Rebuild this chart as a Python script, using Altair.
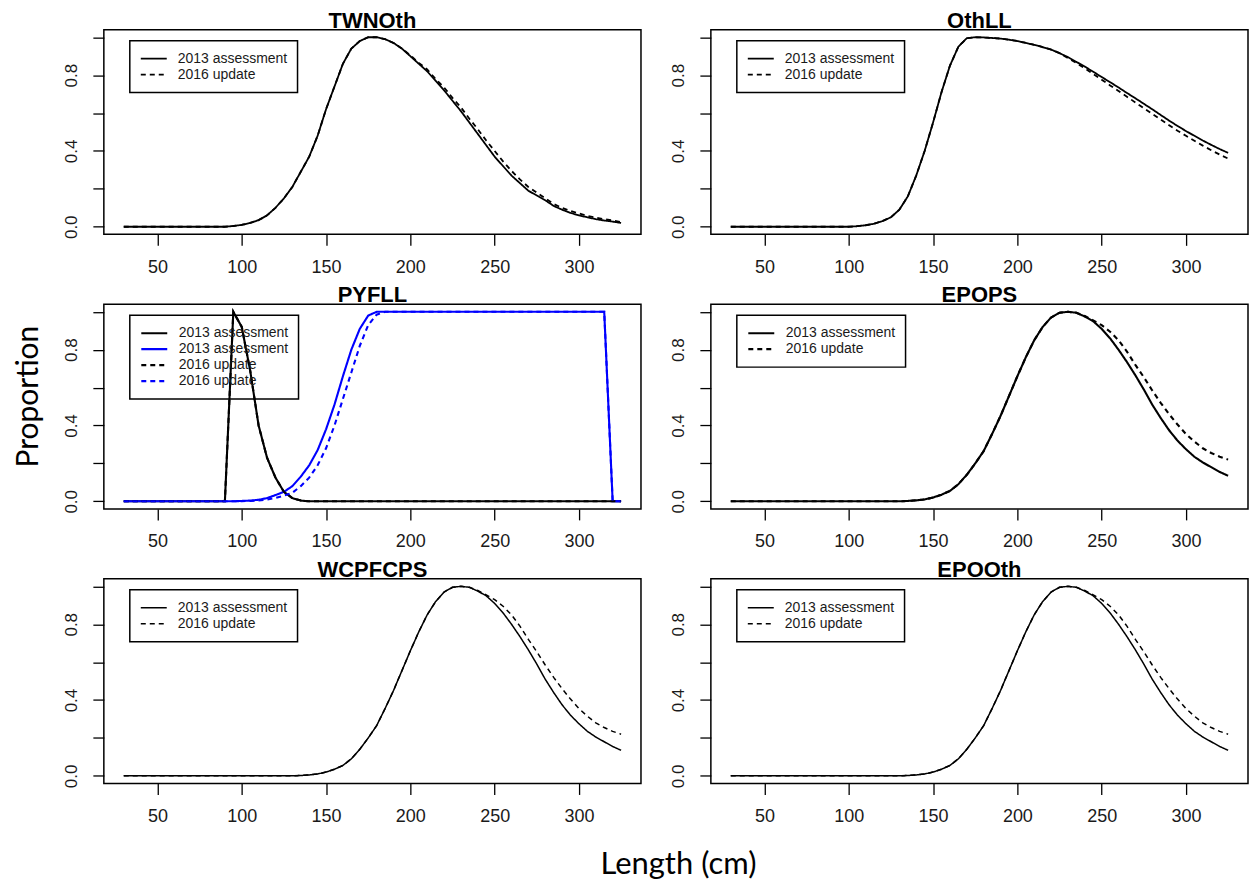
import altair as alt
import pandas as pd

# ---------------- data ----------------
LENGTHS = list(range(30, 330, 5))  # 30 ... 325 cm

X_TICKS = [50, 100, 150, 200, 250, 300]
Y_TICKS = [0, 0.2, 0.4, 0.6, 0.8, 1.0]

PANEL_NAMES = ["TWNOth", "OthLL", "PYFLL", "EPOPS", "WCPFCPS", "EPOOth"]

TWNOTH_2013 = [0, 0, 0, 0, 0, 0, 0, 0, 0, 0,
               0, 0, 0, 0.004, 0.01, 0.02, 0.035, 0.06, 0.10, 0.15,
               0.21, 0.29, 0.37, 0.48, 0.62, 0.74, 0.86, 0.94, 0.98, 1.0,
               1.0, 0.99, 0.97, 0.94, 0.90, 0.86, 0.82, 0.77, 0.72, 0.665,
               0.61, 0.55, 0.49, 0.43, 0.37, 0.32, 0.27, 0.23, 0.19, 0.165,
               0.14, 0.11, 0.09, 0.073, 0.06, 0.05, 0.04, 0.033, 0.027, 0.02]
TWNOTH_2016 = [0, 0, 0, 0, 0, 0, 0, 0, 0, 0,
               0, 0, 0, 0.004, 0.01, 0.02, 0.035, 0.06, 0.10, 0.15,
               0.21, 0.29, 0.37, 0.48, 0.62, 0.74, 0.86, 0.94, 0.98, 1.0,
               1.0, 0.99, 0.97, 0.94, 0.905, 0.865, 0.83, 0.78, 0.735, 0.68,
               0.63, 0.57, 0.515, 0.455, 0.40, 0.345, 0.295, 0.25, 0.21, 0.18,
               0.15, 0.12, 0.10, 0.083, 0.07, 0.058, 0.048, 0.04, 0.033, 0.025]

OTHLL_2013 = [0, 0, 0, 0, 0, 0, 0, 0, 0, 0,
              0, 0, 0, 0, 0, 0.003, 0.008, 0.016, 0.03, 0.05,
              0.09, 0.16, 0.27, 0.40, 0.55, 0.71, 0.85, 0.95, 0.995, 1.0,
              0.999, 0.996, 0.993, 0.987, 0.98, 0.97, 0.96, 0.948, 0.935, 0.916,
              0.895, 0.87, 0.845, 0.818, 0.79, 0.763, 0.735, 0.706, 0.678, 0.649,
              0.62, 0.59, 0.56, 0.532, 0.505, 0.48, 0.455, 0.432, 0.41, 0.39]
OTHLL_2016 = [0, 0, 0, 0, 0, 0, 0, 0, 0, 0,
              0, 0, 0, 0, 0, 0.003, 0.008, 0.016, 0.03, 0.05,
              0.09, 0.16, 0.27, 0.40, 0.55, 0.71, 0.85, 0.95, 0.995, 1.0,
              0.999, 0.996, 0.993, 0.987, 0.98, 0.97, 0.96, 0.948, 0.935, 0.916,
              0.89, 0.864, 0.836, 0.806, 0.776, 0.746, 0.716, 0.686, 0.656, 0.626,
              0.596, 0.566, 0.536, 0.507, 0.48, 0.454, 0.428, 0.404, 0.381, 0.36]

PYFLL_BLACK_2013 = [0, 0, 0, 0, 0, 0, 0, 0, 0, 0,
                    0, 0, 0, 1.0, 0.92, 0.69, 0.40, 0.23, 0.125, 0.05,
                    0.017, 0.004, 0, 0, 0, 0, 0, 0, 0, 0,
                    0, 0, 0, 0, 0, 0, 0, 0, 0, 0,
                    0, 0, 0, 0, 0, 0, 0, 0, 0, 0,
                    0, 0, 0, 0, 0, 0, 0, 0, 0, 0]
PYFLL_BLACK_2016 = [0, 0, 0, 0, 0, 0, 0, 0, 0, 0,
                    0, 0, 0, 1.0, 0.92, 0.69, 0.40, 0.23, 0.125, 0.05,
                    0.017, 0.004, 0, 0, 0, 0, 0, 0, 0, 0,
                    0, 0, 0, 0, 0, 0, 0, 0, 0, 0,
                    0, 0, 0, 0, 0, 0, 0, 0, 0, 0,
                    0, 0, 0, 0, 0, 0, 0, 0, 0, 0]
PYFLL_BLUE_2013 = [0, 0, 0, 0, 0, 0, 0, 0, 0, 0,
                   0, 0, 0, 0, 0.002, 0.004, 0.008, 0.017, 0.033, 0.05,
                   0.08, 0.13, 0.19, 0.27, 0.38, 0.51, 0.66, 0.80, 0.91, 0.98,
                   1.0, 1.0, 1.0, 1.0, 1.0, 1.0, 1.0, 1.0, 1.0, 1.0,
                   1.0, 1.0, 1.0, 1.0, 1.0, 1.0, 1.0, 1.0, 1.0, 1.0,
                   1.0, 1.0, 1.0, 1.0, 1.0, 1.0, 1.0, 1.0, 0, 0]
PYFLL_BLUE_2016 = [0, 0, 0, 0, 0, 0, 0, 0, 0, 0,
                   0, 0, 0, 0, 0.001, 0.002, 0.004, 0.009, 0.018, 0.03,
                   0.045, 0.08, 0.125, 0.19, 0.28, 0.40, 0.54, 0.68, 0.82, 0.93,
                   0.985, 1.0, 1.0, 1.0, 1.0, 1.0, 1.0, 1.0, 1.0, 1.0,
                   1.0, 1.0, 1.0, 1.0, 1.0, 1.0, 1.0, 1.0, 1.0, 1.0,
                   1.0, 1.0, 1.0, 1.0, 1.0, 1.0, 1.0, 1.0, 0, 0]

EPOPS_2013 = [0, 0, 0, 0, 0, 0, 0, 0, 0, 0,
              0, 0, 0, 0, 0, 0, 0, 0, 0, 0,
              0, 0.002, 0.005, 0.01, 0.02, 0.035, 0.055, 0.09, 0.14, 0.20,
              0.265, 0.355, 0.45, 0.555, 0.66, 0.76, 0.85, 0.92, 0.97, 0.995,
              1.0, 0.995, 0.975, 0.95, 0.91, 0.86, 0.80, 0.735, 0.665, 0.59,
              0.51, 0.44, 0.375, 0.32, 0.275, 0.235, 0.205, 0.18, 0.155, 0.135]
EPOPS_2016 = [0, 0, 0, 0, 0, 0, 0, 0, 0, 0,
              0, 0, 0, 0, 0, 0, 0, 0, 0, 0,
              0, 0.002, 0.005, 0.01, 0.02, 0.035, 0.055, 0.09, 0.14, 0.20,
              0.265, 0.355, 0.45, 0.555, 0.66, 0.76, 0.85, 0.92, 0.97, 0.995,
              1.0, 0.995, 0.978, 0.955, 0.93, 0.895, 0.85, 0.79, 0.72, 0.655,
              0.585, 0.52, 0.46, 0.405, 0.355, 0.315, 0.28, 0.255, 0.235, 0.22]

WCPFCPS_2013 = [0, 0, 0, 0, 0, 0, 0, 0, 0, 0,
                0, 0, 0, 0, 0, 0, 0, 0, 0, 0,
                0, 0.002, 0.005, 0.01, 0.02, 0.035, 0.055, 0.09, 0.14, 0.20,
                0.265, 0.355, 0.45, 0.555, 0.66, 0.76, 0.85, 0.92, 0.97, 0.995,
                1.0, 0.995, 0.975, 0.95, 0.91, 0.86, 0.80, 0.735, 0.665, 0.59,
                0.51, 0.44, 0.375, 0.32, 0.275, 0.235, 0.205, 0.18, 0.155, 0.135]
WCPFCPS_2016 = [0, 0, 0, 0, 0, 0, 0, 0, 0, 0,
                0, 0, 0, 0, 0, 0, 0, 0, 0, 0,
                0, 0.002, 0.005, 0.01, 0.02, 0.035, 0.055, 0.09, 0.14, 0.20,
                0.265, 0.355, 0.45, 0.555, 0.66, 0.76, 0.85, 0.92, 0.97, 0.995,
                1.0, 0.995, 0.978, 0.955, 0.93, 0.895, 0.85, 0.79, 0.72, 0.655,
                0.585, 0.52, 0.46, 0.405, 0.355, 0.315, 0.28, 0.255, 0.235, 0.22]

EPOOTH_2013 = [0, 0, 0, 0, 0, 0, 0, 0, 0, 0,
               0, 0, 0, 0, 0, 0, 0, 0, 0, 0,
               0, 0.002, 0.005, 0.01, 0.02, 0.035, 0.055, 0.09, 0.14, 0.20,
               0.265, 0.355, 0.45, 0.555, 0.66, 0.76, 0.85, 0.92, 0.97, 0.995,
               1.0, 0.995, 0.975, 0.95, 0.91, 0.86, 0.80, 0.735, 0.665, 0.59,
               0.51, 0.44, 0.375, 0.32, 0.275, 0.235, 0.205, 0.18, 0.155, 0.135]
EPOOTH_2016 = [0, 0, 0, 0, 0, 0, 0, 0, 0, 0,
               0, 0, 0, 0, 0, 0, 0, 0, 0, 0,
               0, 0.002, 0.005, 0.01, 0.02, 0.035, 0.055, 0.09, 0.14, 0.20,
               0.265, 0.355, 0.45, 0.555, 0.66, 0.76, 0.85, 0.92, 0.97, 0.995,
               1.0, 0.995, 0.978, 0.955, 0.93, 0.895, 0.85, 0.79, 0.72, 0.655,
               0.585, 0.52, 0.46, 0.405, 0.355, 0.315, 0.28, 0.255, 0.235, 0.22]

# series keys: k = black, b = blue ; 13 = 2013 assessment, 16 = 2016 update
SERIES_COLORS = {"k13": "#000000", "b13": "#0000ff", "k16": "#000000", "b16": "#0000ff"}
SERIES_DASH = {"k13": [1, 0], "b13": [1, 0], "k16": [5, 4], "b16": [5, 4]}

PANELS = [
    ("TWNOth", {"k13": TWNOTH_2013, "k16": TWNOTH_2016}, 1.8),
    ("OthLL", {"k13": OTHLL_2013, "k16": OTHLL_2016}, 1.8),
    ("PYFLL", {"k13": PYFLL_BLACK_2013, "b13": PYFLL_BLUE_2013,
               "k16": PYFLL_BLACK_2016, "b16": PYFLL_BLUE_2016}, 2.1),
    ("EPOPS", {"k13": EPOPS_2013, "k16": EPOPS_2016}, 2.1),
    ("WCPFCPS", {"k13": WCPFCPS_2013, "k16": WCPFCPS_2016}, 1.5),
    ("EPOOth", {"k13": EPOOTH_2013, "k16": EPOOTH_2016}, 1.5),
]

# ---------------- layout ----------------
PW, PH = 538, 205
TICK_FONT = "Liberation Sans"
BIG_FONT = "Lato"

LABEL_EXPR = ("datum.value == 'k13' || datum.value == 'b13' "
              "? '2013 assessment' : '2016 update'")
Y_LABEL_EXPR = ("indexof([0, 0.4, 0.8], datum.value) >= 0 "
                "? format(datum.value, '.1f') : ''")


def make_panel(idx, name, series, lw):
    rows = []
    for key, vals in series.items():
        for length, v in zip(LENGTHS, vals):
            rows.append({"L": length, "p": v, "series": key})
    df = pd.DataFrame(rows)
    keys = list(series.keys())

    x_axis_kw = dict(values=X_TICKS, domain=False, grid=False, tickSize=11,
                     tickColor="#000000", tickWidth=1.3, labelFont=TICK_FONT,
                     labelFontSize=18, labelColor="#1a1a1a", labelPadding=13,
                     labelFlush=False, labelBaseline="top")
    if idx == 4:
        x_axis_kw.update(title="Length (cm)", titleFont=BIG_FONT, titleFontSize=31,
                         titleFontWeight="normal", titleColor="#000000",
                         titleX=575, titleY=90, titleAlign="center",
                         titleBaseline="alphabetic", titleAngle=0)
    else:
        x_axis_kw.update(title=None)

    y_axis_kw = dict(values=Y_TICKS, labelExpr=Y_LABEL_EXPR, domain=False, grid=False,
                     tickSize=11, tickColor="#000000", tickWidth=1.3,
                     labelFont=TICK_FONT, labelFontSize=17, labelColor="#1a1a1a",
                     labelAngle=270, labelAlign="center", labelBaseline="bottom",
                     labelPadding=12)
    if idx == 2:
        y_axis_kw.update(title="Proportion", titleFont=BIG_FONT, titleFontSize=30,
                         titleFontWeight="normal", titleColor="#000000",
                         titleX=-66.5, titleY=92, titleAngle=270,
                         titleAlign="center", titleBaseline="alphabetic")
    else:
        y_axis_kw.update(title=None)

    legend = alt.Legend(
        title=None, orient="none", legendX=26, legendY=11,
        labelExpr=LABEL_EXPR, labelFont=TICK_FONT, labelFontSize=14,
        labelColor="#1a1a1a", labelOffset=10,
        symbolType="stroke", symbolSize=676, symbolStrokeWidth=lw,
        clipHeight=16, rowPadding=0, padding=10,
        strokeColor="#000000", zindex=0,
    )

    chart = alt.Chart(df, title=alt.TitleParams(
        name, font=TICK_FONT, fontSize=22, fontWeight="bold", color="#000000",
        anchor="middle", offset=-3)).mark_line(strokeWidth=lw).encode(
        x=alt.X("L:Q", scale=alt.Scale(domain=[18.2, 336.8], nice=False, zero=False),
                axis=alt.Axis(**x_axis_kw)),
        y=alt.Y("p:Q", scale=alt.Scale(domain=[-0.04, 1.04], nice=False, zero=False),
                axis=alt.Axis(**y_axis_kw)),
        color=alt.Color("series:N",
                        scale=alt.Scale(domain=keys, range=[SERIES_COLORS[k] for k in keys]),
                        sort=keys, legend=legend),
        strokeDash=alt.StrokeDash("series:N",
                                  scale=alt.Scale(domain=keys, range=[SERIES_DASH[k] for k in keys]),
                                  sort=keys, legend=legend),
    ).properties(width=PW, height=PH)
    return chart


charts = [make_panel(i, n, s, lw) for i, (n, s, lw) in enumerate(PANELS)]

chart = alt.concat(*charts, columns=2, spacing={"row": 70, "column": 70},
                   bounds="flush").resolve_scale(
    color="independent", strokeDash="independent"
).resolve_legend(
    color="independent", strokeDash="independent"
).properties(
    padding={"left": 4, "top": 0, "right": 0, "bottom": 0}
).configure(
    background="#ffffff"
).configure_view(
    stroke="#000000", strokeWidth=1.5
).configure_legend(
    strokeWidth=1.5
)

chart.save("out.html", embed_options={"renderer": "svg", "actions": False})
